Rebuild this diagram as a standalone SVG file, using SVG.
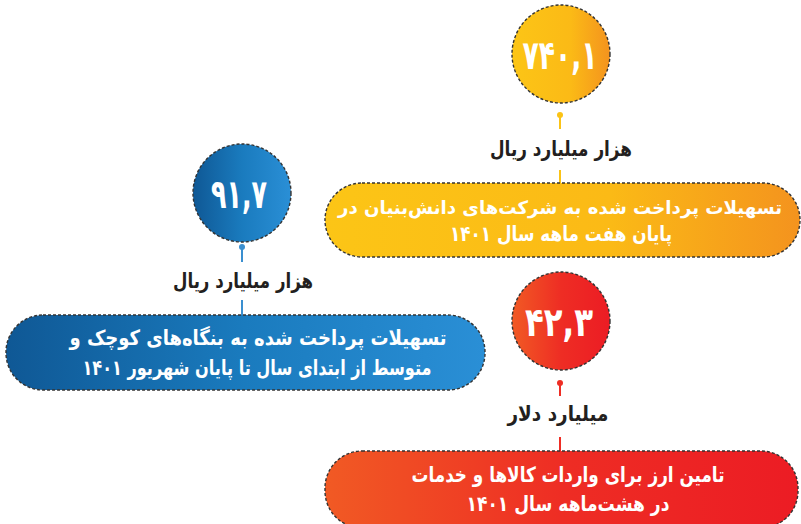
<svg xmlns="http://www.w3.org/2000/svg" width="801" height="524" viewBox="0 0 801 524">
<defs>
<linearGradient id="gy" x1="0" y1="0" x2="1" y2="0"><stop offset="0" stop-color="#FCC516"/><stop offset="0.6" stop-color="#FBBA16"/><stop offset="1" stop-color="#F4931E"/></linearGradient>
<linearGradient id="gb" x1="0" y1="0" x2="1" y2="0"><stop offset="0" stop-color="#0F5895"/><stop offset="0.5" stop-color="#1A7BBE"/><stop offset="1" stop-color="#2A8FD6"/></linearGradient>
<linearGradient id="gr" x1="0" y1="0" x2="1" y2="0"><stop offset="0" stop-color="#F15A24"/><stop offset="0.5" stop-color="#EE2D24"/><stop offset="1" stop-color="#EC1C24"/></linearGradient>
<style>
.sh{stroke:#333;stroke-width:1.4;stroke-dasharray:3 2}
.num{font-family:"DejaVu Sans",sans-serif;font-weight:bold;font-size:40px;fill:#fff;text-anchor:middle}
.lab{font-family:"DejaVu Sans",sans-serif;font-weight:bold;font-size:21px;fill:#231F20;text-anchor:middle}
.txt{font-family:"DejaVu Sans",sans-serif;font-weight:bold;font-size:21px;fill:#fff;text-anchor:middle}
.cy{stroke:#FBC316;stroke-width:2}
.cb{stroke:#3A8FD0;stroke-width:2}
.cr{stroke:#EE2D24;stroke-width:2}
</style>
</defs>
<g id="connectors">
<line class="cy" x1="560" y1="115" x2="560" y2="129"/><circle cx="560" cy="115" r="3" fill="#FBC316"/>
<line class="cy" x1="560" y1="170" x2="560" y2="184"/>
<line class="cb" x1="242" y1="247" x2="242" y2="262"/><circle cx="242" cy="247" r="3" fill="#3A8FD0"/>
<line class="cb" x1="242" y1="300" x2="242" y2="316"/>
<line class="cr" x1="560" y1="383" x2="560" y2="396"/><circle cx="560" cy="383" r="3" fill="#EE2D24"/>
<line class="cr" x1="560" y1="437" x2="560" y2="452"/>
</g>
<g id="node-yellow-num">
<circle class="sh" cx="561" cy="54" r="49" fill="url(#gy)"/>
<text class="num" x="560" y="69" direction="ltr" textLength="75" lengthAdjust="spacingAndGlyphs">۷۴۰,۱</text>
</g>
<g id="node-yellow-label"><text class="lab" x="561" y="156" direction="rtl" textLength="142" lengthAdjust="spacingAndGlyphs">هزار میلیارد ریال</text></g>
<g id="node-yellow-desc">
<rect class="sh" x="325" y="183" width="475" height="74" rx="37" fill="url(#gy)"/>
<text class="txt" x="560" y="214" direction="rtl" style="font-size:18.3px" textLength="444" lengthAdjust="spacingAndGlyphs">تسهیلات پرداخت شده به شرکت‌های دانش‌بنیان در</text>
<text class="txt" x="561" y="241" direction="rtl" textLength="222" lengthAdjust="spacingAndGlyphs">پایان هفت ماهه سال ۱۴۰۱</text>
</g>
<g id="node-blue-num">
<circle class="sh" cx="242" cy="193" r="49" fill="url(#gb)"/>
<text class="num" x="239" y="208" direction="ltr" textLength="56" lengthAdjust="spacingAndGlyphs">۹۱,۷</text>
</g>
<g id="node-blue-label"><text class="lab" x="243" y="288" direction="rtl" textLength="140" lengthAdjust="spacingAndGlyphs">هزار میلیارد ریال</text></g>
<g id="node-blue-desc">
<rect class="sh" x="6" y="315" width="479" height="75" rx="37" fill="url(#gb)"/>
<text class="txt" x="258" y="345" direction="rtl" textLength="377" lengthAdjust="spacingAndGlyphs">تسهیلات پرداخت شده به بنگاه‌های کوچک و</text>
<text class="txt" x="257" y="375" direction="rtl" textLength="349" lengthAdjust="spacingAndGlyphs">متوسط از ابتدای سال تا پایان شهریور ۱۴۰۱</text>
</g>
<g id="node-red-num">
<circle class="sh" cx="561" cy="321" r="49" fill="url(#gr)"/>
<text class="num" x="559" y="336" direction="ltr" textLength="68" lengthAdjust="spacingAndGlyphs">۴۲,۳</text>
</g>
<g id="node-red-label"><text class="lab" x="558" y="421" direction="rtl" textLength="101" lengthAdjust="spacingAndGlyphs">میلیارد دلار</text></g>
<g id="node-red-desc">
<rect class="sh" x="325" y="451" width="473" height="77" rx="37" fill="url(#gr)"/>
<text class="txt" x="568" y="482" direction="rtl" textLength="313" lengthAdjust="spacingAndGlyphs">تامین ارز برای واردات کالاها و خدمات</text>
<text class="txt" x="568" y="511" direction="rtl" textLength="203" lengthAdjust="spacingAndGlyphs">در هشت‌ماهه سال ۱۴۰۱</text>
</g>
</svg>
